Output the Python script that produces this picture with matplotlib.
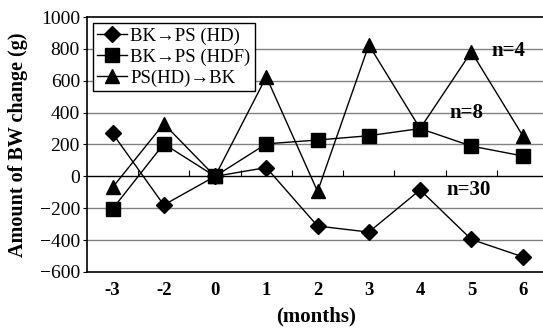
import numpy as np
import matplotlib
matplotlib.use('Agg')
from matplotlib import pyplot as plt

plt.rcParams['font.family'] = ['Liberation Serif', 'DejaVu Serif']

months = ['-3', '-2', '0', '1', '2', '3', '4', '5', '6']
hd = [270, -180, 0, 55, -312, -350, -85, -396, -505]
hdf = [-205, 204, 0, 204, 228, 255, 300, 190, 128]
ps_bk = [-70, 330, 0, 625, -95, 825, 300, 782, 256]
labels = ['BK\u2192PS (HD)', 'BK\u2192PS (HDF)', 'PS(HD)\u2192BK']
notes = ['n=4', 'n=8', 'n=30']
note_pos = [(7.72, 790), (6.9, 395), (6.95, -85)]

x = np.arange(len(months))

fig = plt.figure(figsize=(5.43, 3.28), dpi=100)
ax = fig.add_axes([0.160, 0.171, 0.845, 0.777])

# grid first so lines sit on top
for v in range(-400, 1000, 200):
    if v != 0:
        ax.axhline(v, color='#808080', lw=1, zorder=0)
ax.axhline(0, color='black', lw=1, zorder=1)
# category tick marks on the zero line
ax.plot(x[:-1] + 0.5, np.zeros(len(x) - 1), ls='none', marker=2,
        ms=4, color='black', mew=0.8, zorder=1)

ax.plot(x, hd, color='black', lw=1, marker='D', ms=8, label=labels[0], zorder=3)
ax.plot(x, hdf, color='black', lw=1, marker='s', ms=9.5, label=labels[1], zorder=3)
ax.plot(x, ps_bk, color='black', lw=1, marker='^', ms=10, label=labels[2], zorder=3)

for t, (px, py) in zip(notes, note_pos):
    ax.text(px, py, t, fontsize=15, fontweight='bold', ha='center', va='center')

ax.set_xlim(-0.5, 8.45)
ax.set_ylim(-600, 1000)
ax.set_yticks(range(-600, 1001, 200))
ax.set_xticks(x)
ax.set_xticklabels(months, fontsize=13.5, fontweight='bold')
ax.tick_params(axis='x', length=0, pad=7)
ax.tick_params(axis='y', length=3, labelsize=14, direction='out', pad=2)
for s in ax.spines.values():
    s.set_linewidth(1.2)
ax.set_ylabel('Amount of BW change (g)', fontsize=14.5, fontweight='bold', labelpad=8)
ax.set_xlabel('(months)', fontsize=15, fontweight='bold', labelpad=6)

leg = ax.legend(loc='upper left', fontsize=13.5, frameon=True, fancybox=False,
                edgecolor='black', borderpad=0.25, labelspacing=0.2,
                handlelength=1.6, handletextpad=0.15, borderaxespad=0.3)
leg.get_frame().set_linewidth(1)
leg.get_frame().set_alpha(1)

fig.savefig('out.png', dpi=100)
